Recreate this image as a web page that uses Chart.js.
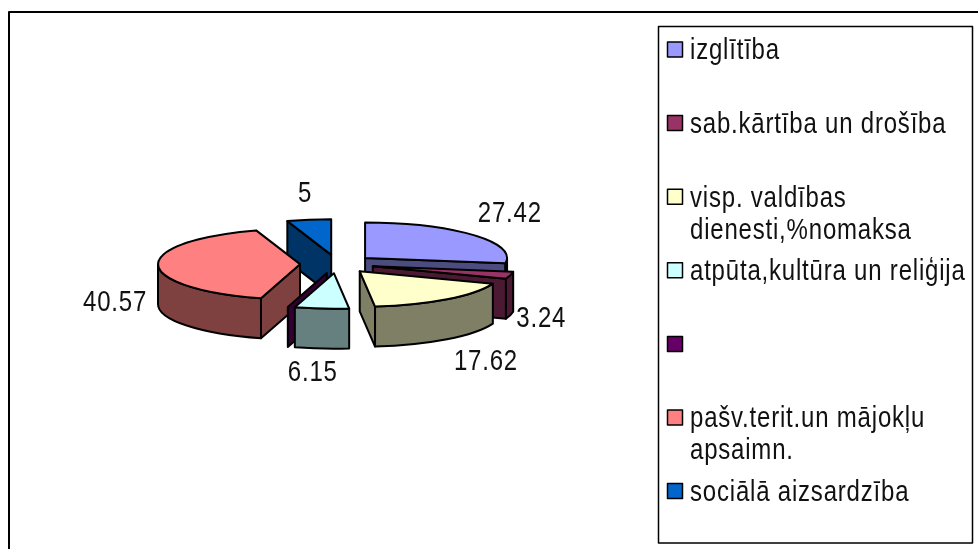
<!DOCTYPE html>
<html>
<head>
<meta charset="utf-8">
<style>
  html, body { margin: 0; background: #fff; }
  canvas { display: block; }
</style>
<script src="https://cdn.jsdelivr.net/npm/chart.js@4"></script>
</head>
<body>
<canvas id="myChart" width="978" height="549"></canvas>
<script>
const categories = [
  "izglītība",
  "sab.kārtība un drošība",
  "visp. valdības dienesti,%nomaksa",
  "atpūta,kultūra un reliģija",
  "",
  "pašv.terit.un mājokļu apsaimn.",
  "sociālā aizsardzība",
];
const shares = [27.42, 3.24, 17.62, 6.15, 0, 40.57, 5];
const topColors = ["#9999FF", "#993366", "#FFFFCC", "#CCFFFF", "#660066", "#FF8080", "#0066CC"];
const wallColors = ["#4C4C7F", "#4C1933", "#7F7F66", "#667F7F", "#330033", "#7F4040", "#003366"];

// wrapped legend lines, the way the original breaks them
const legendLines = [
  ["izglītība"],
  ["sab.kārtība un drošība"],
  ["visp. valdības", "dienesti,%nomaksa"],
  ["atpūta,kultūra un reliģija"],
  [""],
  ["pašv.terit.un mājokļu", "apsaimn."],
  ["sociālā aizsardzība"],
];

// label offset from the outer middle of each slice
const labelShift = [[37, -21], [31, 44], [39, 63], [-9, 64], null, [-43, 38], [-4, -26]];

const tilt = 0.25;
const depth = 40;
const explode = 37;
const lineColor = "#000";
const edgeWidth = 2;
const font = '24px "Liberation Sans", Arial, sans-serif';
const textStretch = 1.2; // the original screenshot is taller than wide

function rimPoint(cx, cy, r, a) {
  return [cx + r * Math.cos(a), cy + r * tilt * Math.sin(a)];
}

// apex of an exploded slice on screen
function slicePos(arc) {
  const mid = (arc.startAngle + arc.endAngle) / 2;
  return {
    mid,
    dx: Math.cos(mid) * explode,
    dy: Math.sin(mid) * explode,
    x: arc.x + Math.cos(mid) * explode,
    y: arc.y + Math.sin(mid) * explode * tilt,
  };
}

function fillStroke(ctx, color) {
  ctx.fillStyle = color;
  ctx.fill();
  ctx.strokeStyle = lineColor;
  ctx.lineWidth = edgeWidth;
  ctx.lineJoin = "round";
  ctx.stroke();
}

function radialWall(ctx, p, r, a, color) {
  const [ex, ey] = rimPoint(p.x, p.y, r, a);
  ctx.beginPath();
  ctx.moveTo(p.x, p.y);
  ctx.lineTo(ex, ey);
  ctx.lineTo(ex, ey + depth);
  ctx.lineTo(p.x, p.y + depth);
  ctx.closePath();
  fillStroke(ctx, color);
}

function curvedWall(ctx, p, r, from, to, color) {
  const ry = r * tilt;
  ctx.beginPath();
  ctx.ellipse(p.x, p.y, r, ry, 0, from, to);
  ctx.ellipse(p.x, p.y + depth, r, ry, 0, to, from, true);
  ctx.closePath();
  fillStroke(ctx, color);
}

function tallText(ctx, text, x, y) {
  ctx.save();
  ctx.translate(x, y);
  ctx.scale(1, textStretch);
  ctx.fillText(text, 0, 0);
  ctx.restore();
}

const pie3d = {
  id: "pie3d",
  beforeDatasetDraw(chart, args) {
    const ctx = chart.ctx;
    const arcs = args.meta.data;
    const order = arcs.map((_, i) => i).sort((a, b) =>
      Math.sin((arcs[a].startAngle + arcs[a].endAngle) / 2) - Math.sin((arcs[b].startAngle + arcs[b].endAngle) / 2));

    order.forEach((i) => {
      const arc = arcs[i];
      const p = slicePos(arc);
      const r = arc.outerRadius;
      const s = arc.startAngle;
      const e = arc.endAngle;

      if (Math.cos(s) < -1e-6) radialWall(ctx, p, r, s, wallColors[i]);
      if (Math.cos(e) > 1e-6 && e > s) radialWall(ctx, p, r, e, wallColors[i]);

      const from = Math.max(s, 0);
      const to = Math.min(e, Math.PI);
      if (to > from) curvedWall(ctx, p, r, from, to, wallColors[i]);

      if (e > s) {
        // top face: the library draws the arc, squashed and moved out
        ctx.save();
        ctx.translate(arc.x, arc.y);
        ctx.scale(1, tilt);
        ctx.translate(p.dx - arc.x, p.dy - arc.y);
        arc.draw(ctx);
        ctx.restore();

        ctx.beginPath();
        ctx.moveTo(p.x, p.y);
        ctx.ellipse(p.x, p.y, r, r * tilt, 0, s, e);
        ctx.closePath();
        ctx.strokeStyle = lineColor;
        ctx.lineWidth = edgeWidth;
        ctx.stroke();
      }
    });
    return false;
  },
  afterDraw(chart) {
    const ctx = chart.ctx;
    const arcs = chart.getDatasetMeta(0).data;

    // outer frame runs off the right and bottom of the picture
    ctx.strokeStyle = "#000";
    ctx.lineWidth = 2;
    ctx.beginPath();
    ctx.moveTo(9, 549);
    ctx.lineTo(9, 12);
    ctx.lineTo(978, 12);
    ctx.stroke();

    // value labels
    ctx.font = font;
    ctx.letterSpacing = "0.8px";
    ctx.fillStyle = "#111";
    ctx.textAlign = "center";
    ctx.textBaseline = "middle";
    shares.forEach((v, i) => {
      if (!labelShift[i]) return;
      const p = slicePos(arcs[i]);
      const [x, y] = rimPoint(p.x, p.y, arcs[i].outerRadius, p.mid);
      tallText(ctx, String(v), x + labelShift[i][0], y + labelShift[i][1]);
    });

    // legend box
    ctx.strokeStyle = "#000";
    ctx.lineWidth = 1.5;
    ctx.strokeRect(658.5, 26.5, 314, 516.5);
    ctx.textAlign = "left";
    legendLines.forEach((lines, i) => {
      const rowY = 49.5 + i * 73.6;
      ctx.fillStyle = topColors[i];
      ctx.fillRect(667.5, rowY - 7.5, 15, 15);
      ctx.strokeStyle = "#000";
      ctx.lineWidth = 1.5;
      ctx.strokeRect(667.5, rowY - 7.5, 15, 15);
      ctx.fillStyle = "#111";
      lines.forEach((t, k) => tallText(ctx, t, 690, rowY + 2 + k * 32));
    });
    ctx.letterSpacing = "0px";
  },
};

new Chart(document.getElementById("myChart"), {
  type: "pie",
  data: {
    labels: categories,
    datasets: [
      {
        data: shares,
        backgroundColor: topColors,
        borderWidth: 0,
        radius: 142,
      },
    ],
  },
  options: {
    responsive: false,
    animation: false,
    events: [],
    layout: { padding: { right: 304, bottom: 21 } },
    plugins: {
      legend: { display: false },
      tooltip: { enabled: false },
    },
  },
  plugins: [pie3d],
});
</script>
</body>
</html>
